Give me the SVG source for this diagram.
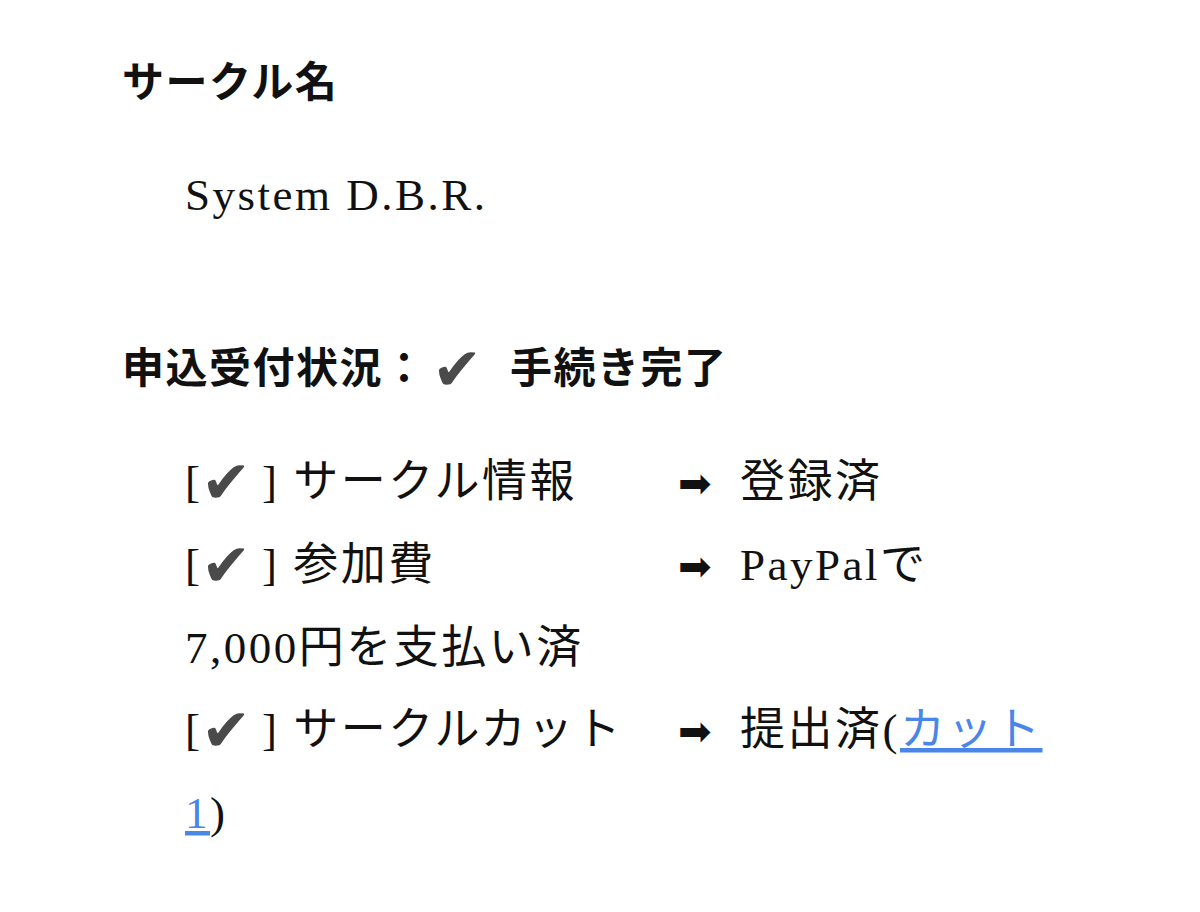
<svg xmlns="http://www.w3.org/2000/svg" width="1200" height="912" viewBox="0 0 1200 912">
<style>
.t{font-family:"Liberation Serif","Noto Sans CJK JP",serif;font-size:45px;letter-spacing:2.5px;fill:#111}
.h{font-family:"Liberation Serif","Noto Sans CJK JP",serif;font-size:42px;letter-spacing:1.5px;font-weight:bold;fill:#111}
.c{font-family:"DejaVu Sans",sans-serif;fill:#4a4a4a;font-size:60px;letter-spacing:0}
.a{font-family:"DejaVu Sans",sans-serif;fill:#111;font-size:40px;letter-spacing:0}
.l{fill:#4a86e8;text-decoration:underline}
</style>
<rect width="1200" height="912" fill="#fff"/>
<text class="h" x="122" y="97">サークル名</text>
<text class="t" x="185" y="210">System D.B.R.</text>
<g id="status">
<text class="h" x="122" y="383">申込受付状況：</text>
<text class="c" x="432" y="390" font-size="62">✔</text>
<text class="h" x="510" y="383">手続き完了</text>
</g>
<g class="t">
<text x="185" y="497">[</text><text class="c" x="201" y="503">✔</text><text x="262" y="497">] サークル情報</text>
<text class="a" x="678" y="497">➡</text><text x="740" y="497">登録済</text>
<text x="185" y="580">[</text><text class="c" x="201" y="586">✔</text><text x="262" y="580">] 参加費</text>
<text class="a" x="678" y="580">➡</text><text x="740" y="580">PayPalで</text>
<text x="185" y="663">7,000円を支払い済</text>
<text x="185" y="745">[</text><text class="c" x="201" y="751">✔</text><text x="262" y="745">] サークルカット</text>
<text class="a" x="678" y="745">➡</text><text x="740" y="745">提出済(<tspan class="l">カット</tspan></text>
<text x="185" y="828"><tspan class="l">1</tspan>)</text>
</g>
</svg>
